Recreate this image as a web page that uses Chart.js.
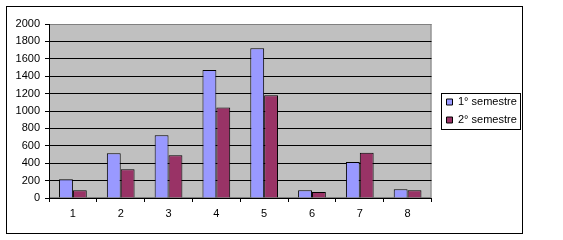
<!DOCTYPE html>
<html><head><meta charset="utf-8">
<script src="https://cdn.jsdelivr.net/npm/chart.js@4/dist/chart.umd.min.js"></script>
<style>html,body{margin:0;padding:0;background:#fff}canvas{display:block}</style>
</head><body>
<canvas id="c" width="563" height="240"></canvas>
<script>
const categories = ['1', '2', '3', '4', '5', '6', '7', '8'];
const series1Label = '1° semestre';
const series2Label = '2° semestre';
const series1 = [215, 515, 720, 1470, 1720, 90, 415, 100];
const series2 = [90, 330, 490, 1040, 1180, 70, 520, 90];
const yMin = 0;
const yMax = 2000;
const yStep = 200;

const FONT = {family: '"Liberation Sans", Arial, sans-serif', size: 11};

const framePlugin = {
  id: 'frame',
  beforeDraw(chart) {
    const {ctx, chartArea: a} = chart;
    ctx.save();
    ctx.fillStyle = '#ffffff';
    ctx.fillRect(0, 0, chart.width, chart.height);
    ctx.fillStyle = '#C0C0C0';
    ctx.fillRect(a.left, a.top, a.right - a.left, a.bottom - a.top);
    ctx.strokeStyle = '#808080';
    ctx.lineWidth = 1;
    ctx.strokeRect(a.left + 0.5, a.top + 0.5, a.right - a.left - 1, a.bottom - a.top - 1);
    ctx.restore();
  },
  afterDraw(chart) {
    const {ctx} = chart;
    ctx.save();
    ctx.strokeStyle = '#000';
    ctx.lineWidth = 1;
    ctx.strokeRect(6.5, 6.5, 516, 227);
    const lg = chart.legend;
    if (lg && lg.legendHitBoxes && lg.legendHitBoxes.length) {
      const hb = lg.legendHitBoxes;
      const first = hb[0], last = hb[hb.length - 1];
      const left = Math.round(first.left) - 6;
      const top = Math.round(first.top) - 4;
      const bottom = Math.round(last.top + last.height) + 3;
      let right = 0;
      hb.forEach(h => { right = Math.max(right, h.left + h.width); });
      right = Math.round(right) + 3;
      ctx.strokeRect(left + 0.5, top + 0.5, right - left, bottom - top);
    }
    ctx.restore();
  }
};

new Chart(document.getElementById('c'), {
  type: 'bar',
  data: {
    labels: categories,
    datasets: [
      {label: series1Label, data: series1, backgroundColor: '#9999FF', borderColor: '#000', borderWidth: 1},
      {label: series2Label, data: series2, backgroundColor: '#993366', borderColor: '#000', borderWidth: 1}
    ]
  },
  options: {
    responsive: false,
    animation: false,
    devicePixelRatio: 1,
    layout: {padding: {left: 7, top: 24, right: 37, bottom: 20}},
    datasets: {bar: {categoryPercentage: 0.58, barPercentage: 1.0}},
    plugins: {
      tooltip: {enabled: false},
      legend: {
        position: 'right',
        fullSize: false,
        align: 'center',
        labels: {boxWidth: 6, boxHeight: 6, padding: 7, color: '#000', font: FONT}
      }
    },
    scales: {
      x: {
        grid: {offset: true, drawOnChartArea: false, tickLength: 4, tickColor: '#000'},
        border: {color: '#000'},
        ticks: {color: '#000', font: FONT, padding: 5, maxRotation: 0},
        afterFit: s => { s.height = 22; }
      },
      y: {
        min: yMin, max: yMax,
        grid: {
          color: c => (c.tick && c.tick.value === yMax) ? '#808080' : '#000',
          tickColor: '#000', tickLength: 4
        },
        border: {color: '#000'},
        ticks: {stepSize: yStep, color: '#000', font: FONT, padding: 5, callback: v => String(v)},
        afterFit: s => { s.width = 42; }
      },
      gap: {
        type: 'linear', position: 'right', display: true,
        grid: {display: false}, border: {display: false},
        ticks: {display: false},
        afterFit: s => { s.width = 8; }
      }
    }
  },
  plugins: [framePlugin]
});
</script>
</body></html>
